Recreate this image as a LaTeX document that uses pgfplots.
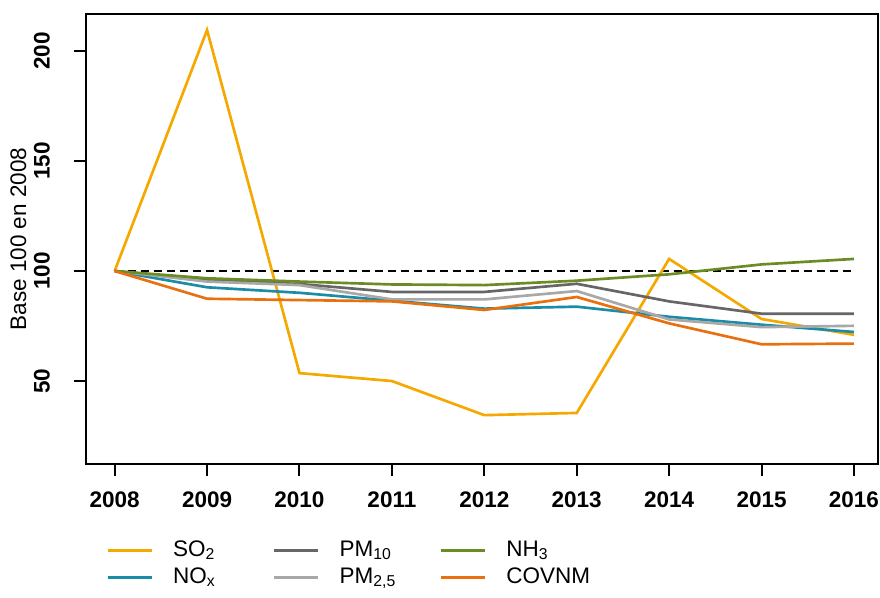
\documentclass[border=0pt]{standalone}
\usepackage{fontspec}
\setmainfont{Liberation Sans}
\usepackage{pgfplots}
\pgfplotsset{compat=1.18}

\definecolor{cSO}{HTML}{F5A800}
\definecolor{cNO}{HTML}{1B8CA8}
\definecolor{cPMa}{HTML}{666666}
\definecolor{cPMb}{HTML}{A8A8A8}
\definecolor{cNH}{HTML}{6B8C23}
\definecolor{cCOV}{HTML}{E8700F}

\newcommand{\lfont}{\fontsize{13.5}{16}\selectfont}

\begin{document}
\begin{tikzpicture}
\begin{axis}[
    name=ax,
    scale only axis,
    width=475.2pt, height=270pt,
    xmin=2007.69, xmax=2016.26,
    ymin=12.3, ymax=216.8,
    xtick={2008,2009,2010,2011,2012,2013,2014,2015,2016},
    ytick={50,100,150,200},
    xtick pos=bottom, ytick pos=left,
    tick align=outside,
    major tick length=7.2pt,
    tick style={black, line width=1.2pt},
    axis line style={line width=1.2pt},
    /pgf/number format/1000 sep={},
    /pgf/number format/assume math mode=true,
    xticklabel style={font=\lfont\bfseries, yshift=-6pt},
    yticklabel style={font=\lfont\bfseries, xshift=-11pt, rotate=90, anchor=south},
    ylabel={Base 100 en 2008},
    ylabel style={font=\lfont, at={(axis description cs:-0.096,0.5)}, anchor=north, inner sep=0pt},
    legend columns=3,
    legend cell align=left,
    legend image code/.code={\draw[#1] (0pt,0pt) -- (26.4pt,0pt);},
    legend style={
        draw=none, inner sep=0pt,
        at={(axis description cs:0.0253,-0.1667)}, anchor=north west,
        font=\lfont,
        nodes={inner sep=0pt, text height=10pt, text depth=3pt},
        row sep=3.2pt,
        /tikz/every odd column/.append style={column sep=12pt},
        /tikz/every even column/.append style={column sep=10pt}
    },
    every axis plot/.append style={line width=1.6pt, mark=none},
]
% reference line
\addplot[black, dashed, line width=1.2pt, dash pattern=on 4.8pt off 3pt, forget plot]
    coordinates {(2008,100) (2016,100)};

% SO2
\addplot[cSO, forget plot] coordinates {
    (2008,100) (2009,209.5) (2010,53.6) (2011,50.0) (2012,34.5)
    (2013,35.5) (2014,105.5) (2015,78.2) (2016,71.0)
};
% NOx
\addplot[cNO, forget plot] coordinates {
    (2008,100) (2009,92.6) (2010,90.1) (2011,86.5) (2012,82.9)
    (2013,83.8) (2014,79.2) (2015,75.6) (2016,72.3)
};
% PM10
\addplot[cPMa, forget plot] coordinates {
    (2008,100) (2009,95.9) (2010,94.1) (2011,90.5) (2012,90.5)
    (2013,94.2) (2014,86.2) (2015,80.6) (2016,80.6)
};
% PM2.5
\addplot[cPMb, forget plot] coordinates {
    (2008,100) (2009,95.2) (2010,93.6) (2011,87.1) (2012,87.1)
    (2013,90.9) (2014,78.0) (2015,74.5) (2016,75.1)
};
% NH3
\addplot[cNH, forget plot] coordinates {
    (2008,100) (2009,96.7) (2010,95.2) (2011,93.9) (2012,93.6)
    (2013,95.6) (2014,98.5) (2015,103.0) (2016,105.5)
};
% COVNM
\addplot[cCOV, forget plot] coordinates {
    (2008,100) (2009,87.4) (2010,86.8) (2011,86.2) (2012,82.3)
    (2013,88.2) (2014,76.2) (2015,66.7) (2016,67.0)
};

% legend, row by row
\addlegendimage{cSO, line width=1.6pt}
\addlegendentry{\makebox[50pt][l]{SO\textsubscript{2}}}
\addlegendimage{cPMa, line width=1.6pt}
\addlegendentry{\makebox[50pt][l]{PM\textsubscript{10}}}
\addlegendimage{cNH, line width=1.6pt}
\addlegendentry{\makebox[50pt][l]{NH\textsubscript{3}}}
\addlegendimage{cNO, line width=1.6pt}
\addlegendentry{\makebox[50pt][l]{NO\textsubscript{x}}}
\addlegendimage{cPMb, line width=1.6pt}
\addlegendentry{\makebox[50pt][l]{PM\textsubscript{2,5}}}
\addlegendimage{cCOV, line width=1.6pt}
\addlegendentry{\makebox[50pt][l]{COVNM}}
\end{axis}
\pgfresetboundingbox
\path ([xshift=-51.6pt, yshift=-79.8pt]ax.south west) rectangle ([xshift=1.2pt, yshift=8.4pt]ax.north east);
\end{tikzpicture}
\end{document}
